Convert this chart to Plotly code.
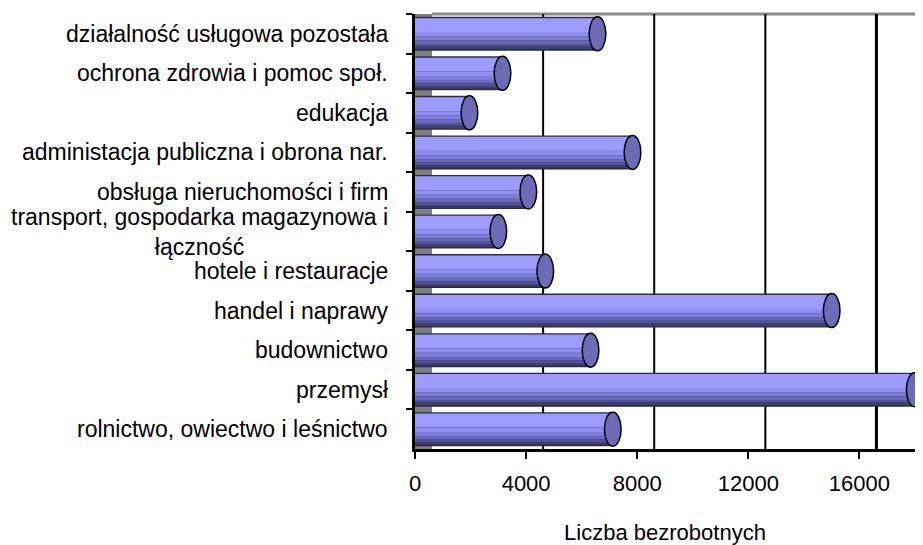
import plotly.graph_objects as go

# categories listed top to bottom, as in the reference
categories = [
    "działalność usługowa pozostała",
    "ochrona zdrowia i pomoc społ.",
    "edukacja",
    "administacja publiczna i obrona nar.",
    "obsługa nieruchomości i firm",
    "transport, gospodarka magazynowa i<br>łączność",
    "hotele i restauracje",
    "handel i naprawy",
    "budownictwo",
    "przemysł",
    "rolnictwo, owiectwo i leśnictwo",
]
values = [6570, 3150, 1960, 7830, 4080, 3000, 4690, 15000, 6320, 17990, 7120]
x_ticks = [0, 4000, 8000, 12000, 16000]
x_title = "Liczba bezrobotnych"

FONT = "Liberation Sans, Arial, sans-serif"
THICK = 0.86          # bar thickness in category units
DEPTH = 612           # 3D back-wall offset, in x units
CAP_HALF = 300        # half width of the cylinder end cap, in x units

# horizontal shading bands (fraction from top, fraction to, colour)
bands = [
    (0.00, 1.00, "#2C2C46"),
    (0.04, 0.45, "#9C9CFF"),
    (0.45, 0.58, "#8F8FF2"),
    (0.58, 0.70, "#7D7DDA"),
    (0.70, 0.80, "#6868BC"),
    (0.80, 0.88, "#52529A"),
    (0.88, 0.95, "#40406E"),
]

fig = go.Figure()
for a, b, col in bands:
    fig.add_trace(go.Bar(
        y=categories, x=values, orientation="h",
        offset=-THICK / 2 + a * THICK, width=(b - a) * THICK,
        marker=dict(color=col, line=dict(width=0)),
        showlegend=False, hoverinfo="skip" if a > 0 else "x+y",
    ))

shapes = []
# side wall of the 3D frame
shapes.append(dict(type="rect", xref="x", yref="y domain", x0=0, x1=DEPTH,
                   y0=0, y1=1, fillcolor="#7F7F7F", line=dict(width=0),
                   layer="below"))
# top edge of the back wall
shapes.append(dict(type="line", xref="x domain", yref="y domain",
                   x0=DEPTH / 18000, x1=1, y0=1, y1=1,
                   line=dict(color="#8C8C8C", width=3), layer="below"))
# gridlines on the back wall
for t in x_ticks[1:]:
    shapes.append(dict(type="line", xref="x", yref="y domain",
                       x0=t + DEPTH, x1=t + DEPTH, y0=0, y1=1,
                       line=dict(color="#000000", width=2 if t < 16000 else 3),
                       layer="below"))
# cylinder end caps
for i, v in enumerate(values):
    shapes.append(dict(type="circle", xref="x", yref="y",
                       x0=v - CAP_HALF, x1=v + CAP_HALF,
                       y0=i - THICK / 2, y1=i + THICK / 2,
                       fillcolor="#6B6BB8", line=dict(color="#000000", width=1.5),
                       layer="above"))

annotations = []
for c in categories:
    annotations.append(dict(
        text=c, xref="paper", yref="y", x=0, y=c, xanchor="right",
        xshift=-25, showarrow=False, align="center",
        font=dict(family=FONT, size=23, color="#000000"),
    ))

# the page body adds an 8 px margin, so the figure is 8 px smaller
fig.update_layout(
    template="none",
    width=915, height=537,
    barmode="overlay",
    paper_bgcolor="white", plot_bgcolor="white",
    margin=dict(l=407, r=8, t=6, b=96),
    font=dict(family=FONT, size=22, color="#000000"),
    shapes=shapes,
    annotations=annotations,
    xaxis=dict(
        automargin=False,
        range=[0, 18000], tickvals=x_ticks, ticktext=[str(t) for t in x_ticks],
        showgrid=False, zeroline=False,
        showline=True, linecolor="#000000", linewidth=3,
        ticks="outside", ticklen=7, tickcolor="#000000", tickwidth=2,
        ticklabelstandoff=6,
        title=dict(text=x_title, standoff=31, font=dict(size=22)),
    ),
    yaxis=dict(
        automargin=False,
        autorange="reversed", showticklabels=False, showgrid=False,
        zeroline=False,
        showline=True, linecolor="#000000", linewidth=3,
        ticks="outside", ticklen=6, tickcolor="#000000", tickwidth=2,
        tickson="boundaries",
    ),
)

fig.write_html("out.html")
